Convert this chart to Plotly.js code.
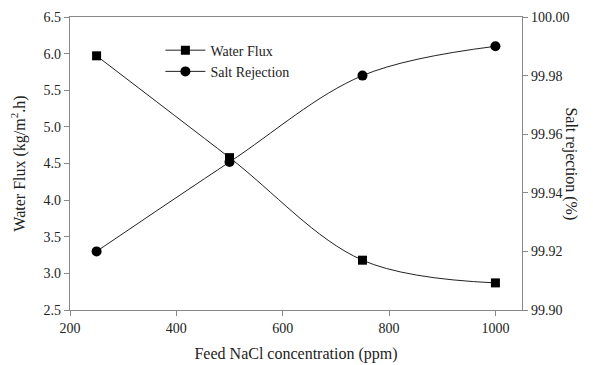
<!DOCTYPE html>
<html><head><meta charset="utf-8">
<script src="https://cdn.plot.ly/plotly-3.0.1.min.js"></script>
<style>html,body{margin:0;padding:0;background:#fff}#c{width:593px;height:365px}</style>
</head><body><div id="c"></div>
<script>
const concentration = [250, 500, 750, 1000];
const waterFlux = [5.97, 4.58, 3.18, 2.87];
const saltRejection = [99.920, 99.9505, 99.980, 99.990];

const FF = 'Liberation Serif';
const font = {family: FF, color: '#222', size: 14};
const axisCommon = {showgrid: false, zeroline: false, showline: true, linecolor: '#888', linewidth: 1.2,
  ticks: 'outside', ticklen: 5, tickcolor: '#888', tickfont: {family: FF, size: 14, color: '#222'}};

const traces = [
  {x: concentration, y: waterFlux, name: 'Water Flux', mode: 'lines+markers', yaxis: 'y',
   line: {color: '#222', width: 1, shape: 'spline'}, marker: {symbol: 'square', size: 9, color: '#000'}},
  {x: concentration, y: saltRejection, name: 'Salt Rejection', mode: 'lines+markers', yaxis: 'y2',
   line: {color: '#222', width: 1, shape: 'spline'}, marker: {symbol: 'circle', size: 10, color: '#000'}}
];

const layout = {
  width: 593, height: 365,
  margin: {l: 70, r: 71, t: 17, b: 55},
  paper_bgcolor: '#fff', plot_bgcolor: '#fff',
  font: font,
  showlegend: true,
  legend: {x: 0.2, y: 0.94, xanchor: 'left', yanchor: 'top', bgcolor: 'rgba(0,0,0,0)',
    font: {family: FF, size: 14, color: '#222'}, tracegroupgap: 0, itemwidth: 40},
  xaxis: Object.assign({}, axisCommon, {range: [200, 1050], tickvals: [200, 400, 600, 800, 1000],
    mirror: true, title: {text: 'Feed NaCl concentration (ppm)', font: {family: FF, size: 16, color: '#222'}, standoff: 12}}),
  yaxis: Object.assign({}, axisCommon, {range: [2.5, 6.5], dtick: 0.5, tickformat: '.1f',
    title: {text: 'Water Flux (kg/m<sup>2</sup>.h)', font: {family: FF, size: 16, color: '#222'}, standoff: 14}}),
  yaxis2: Object.assign({}, axisCommon, {overlaying: 'y', side: 'right', range: [99.90, 100.00], dtick: 0.02,
    tickformat: '.2f'}),
  annotations: [{text: 'Salt rejection (%)', xref: 'paper', yref: 'paper', x: 1.133, y: 0.5,
    showarrow: false, textangle: 90, font: {family: FF, size: 16, color: '#222'}}]
};

Plotly.newPlot('c', traces, layout, {displayModeBar: false, staticPlot: true});
</script></body></html>
